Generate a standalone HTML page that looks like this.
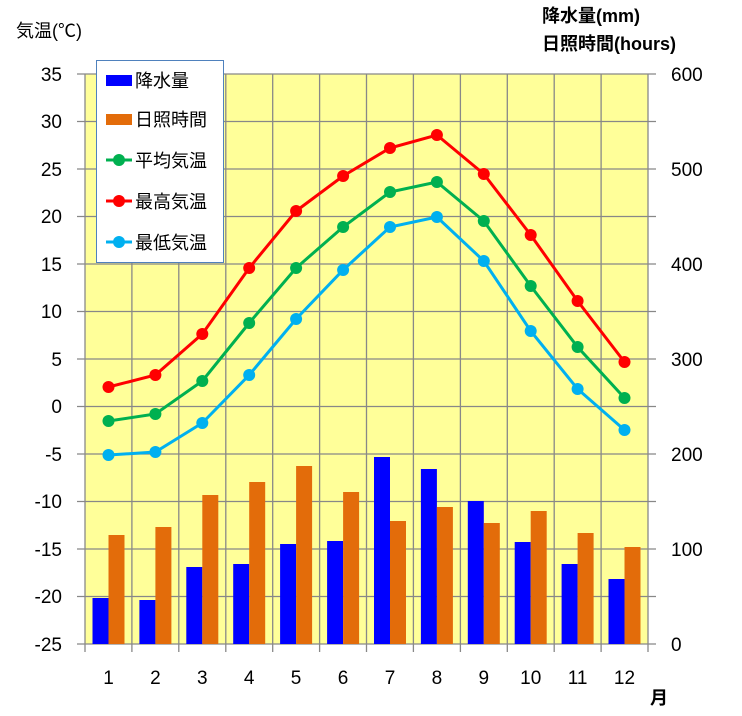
<!DOCTYPE html>
<html><head><meta charset="utf-8"><style>
body{margin:0;background:#fff;}
svg text{font-family:"Liberation Sans","Noto Sans CJK JP",sans-serif;fill:#000;}
</style></head><body>
<svg width="742" height="711" xmlns="http://www.w3.org/2000/svg">
<rect x="85" y="74" width="563" height="570" fill="#ffff99"/>
<g stroke="#888" stroke-width="1.3">
<line x1="131.9" y1="74" x2="131.9" y2="652"/><line x1="178.8" y1="74" x2="178.8" y2="652"/><line x1="225.8" y1="74" x2="225.8" y2="652"/><line x1="272.7" y1="74" x2="272.7" y2="652"/><line x1="319.6" y1="74" x2="319.6" y2="652"/><line x1="366.5" y1="74" x2="366.5" y2="652"/><line x1="413.4" y1="74" x2="413.4" y2="652"/><line x1="460.4" y1="74" x2="460.4" y2="652"/><line x1="507.3" y1="74" x2="507.3" y2="652"/><line x1="554.2" y1="74" x2="554.2" y2="652"/><line x1="601.1" y1="74" x2="601.1" y2="652"/>
<line x1="85" y1="74" x2="85" y2="652"/><line x1="648" y1="74" x2="648" y2="652"/>
<line x1="77" y1="74" x2="656" y2="74"/><line x1="77" y1="121.5" x2="656" y2="121.5"/><line x1="77" y1="169" x2="656" y2="169"/><line x1="77" y1="216.5" x2="656" y2="216.5"/><line x1="77" y1="264" x2="656" y2="264"/><line x1="77" y1="311.5" x2="656" y2="311.5"/><line x1="77" y1="359" x2="656" y2="359"/><line x1="77" y1="406.5" x2="656" y2="406.5"/><line x1="77" y1="454" x2="656" y2="454"/><line x1="77" y1="501.5" x2="656" y2="501.5"/><line x1="77" y1="549" x2="656" y2="549"/><line x1="77" y1="596.5" x2="656" y2="596.5"/><line x1="77" y1="644" x2="656" y2="644"/>
</g>
<g fill="#0000ff">
<rect x="92.5" y="598" width="16" height="46"/><rect x="139.4" y="600" width="16" height="44"/><rect x="186.3" y="567" width="16" height="77"/><rect x="233.2" y="564" width="16" height="80"/><rect x="280.1" y="544" width="16" height="100"/><rect x="327.1" y="541" width="16" height="103"/><rect x="374" y="457" width="16" height="187"/><rect x="420.9" y="469" width="16" height="175"/><rect x="467.8" y="501" width="16" height="143"/><rect x="514.7" y="542" width="16" height="102"/><rect x="561.6" y="564" width="16" height="80"/><rect x="608.5" y="579" width="16" height="65"/>
</g>
<g fill="#e36c0a">
<rect x="108.5" y="535" width="16" height="109"/><rect x="155.4" y="527" width="16" height="117"/><rect x="202.3" y="495" width="16" height="149"/><rect x="249.2" y="482" width="16" height="162"/><rect x="296.1" y="466" width="16" height="178"/><rect x="343.1" y="492" width="16" height="152"/><rect x="390" y="521" width="16" height="123"/><rect x="436.9" y="507" width="16" height="137"/><rect x="483.8" y="523" width="16" height="121"/><rect x="530.7" y="511" width="16" height="133"/><rect x="577.6" y="533" width="16" height="111"/><rect x="624.5" y="547" width="16" height="97"/>
</g>
<g stroke-width="3" fill="none">
<polyline stroke="#ff0000" points="108.5,387 155.4,375 202.3,334 249.2,268 296.1,211 343.1,176 390,148 436.9,135 483.8,174 530.7,235 577.6,301 624.5,362"/>
<polyline stroke="#00b050" points="108.5,421 155.4,414 202.3,381 249.2,323 296.1,268 343.1,227 390,192 436.9,182 483.8,221 530.7,286 577.6,347 624.5,398"/>
<polyline stroke="#00b0f0" points="108.5,455 155.4,452 202.3,423 249.2,375 296.1,319 343.1,270 390,227 436.9,217 483.8,261 530.7,331 577.6,389 624.5,430"/>
</g>
<g fill="#ff0000"><circle cx="108.5" cy="387" r="6"/><circle cx="155.4" cy="375" r="6"/><circle cx="202.3" cy="334" r="6"/><circle cx="249.2" cy="268" r="6"/><circle cx="296.1" cy="211" r="6"/><circle cx="343.1" cy="176" r="6"/><circle cx="390" cy="148" r="6"/><circle cx="436.9" cy="135" r="6"/><circle cx="483.8" cy="174" r="6"/><circle cx="530.7" cy="235" r="6"/><circle cx="577.6" cy="301" r="6"/><circle cx="624.5" cy="362" r="6"/></g>
<g fill="#00b050"><circle cx="108.5" cy="421" r="6"/><circle cx="155.4" cy="414" r="6"/><circle cx="202.3" cy="381" r="6"/><circle cx="249.2" cy="323" r="6"/><circle cx="296.1" cy="268" r="6"/><circle cx="343.1" cy="227" r="6"/><circle cx="390" cy="192" r="6"/><circle cx="436.9" cy="182" r="6"/><circle cx="483.8" cy="221" r="6"/><circle cx="530.7" cy="286" r="6"/><circle cx="577.6" cy="347" r="6"/><circle cx="624.5" cy="398" r="6"/></g>
<g fill="#00b0f0"><circle cx="108.5" cy="455" r="6"/><circle cx="155.4" cy="452" r="6"/><circle cx="202.3" cy="423" r="6"/><circle cx="249.2" cy="375" r="6"/><circle cx="296.1" cy="319" r="6"/><circle cx="343.1" cy="270" r="6"/><circle cx="390" cy="227" r="6"/><circle cx="436.9" cy="217" r="6"/><circle cx="483.8" cy="261" r="6"/><circle cx="530.7" cy="331" r="6"/><circle cx="577.6" cy="389" r="6"/><circle cx="624.5" cy="430" r="6"/></g>
<!-- legend -->
<rect x="96.5" y="60.5" width="127" height="202" fill="#fff" stroke="#4f81bd" stroke-width="1"/>
<rect x="106" y="75" width="26" height="11" fill="#0000ff"/>
<rect x="106" y="114" width="26" height="11" fill="#e36c0a"/>
<line x1="106" y1="160" x2="132" y2="160" stroke="#00b050" stroke-width="3"/><circle cx="119" cy="160" r="6" fill="#00b050"/>
<line x1="106" y1="201" x2="132" y2="201" stroke="#ff0000" stroke-width="3"/><circle cx="119" cy="201" r="6" fill="#ff0000"/>
<line x1="106" y1="242" x2="132" y2="242" stroke="#00b0f0" stroke-width="3"/><circle cx="119" cy="242" r="6" fill="#00b0f0"/>
<g font-size="18"><text x="135" y="87">降水量</text><text x="135" y="126">日照時間</text><text x="135" y="167">平均気温</text><text x="135" y="208">最高気温</text><text x="135" y="249">最低気温</text></g>
<g font-size="19" text-anchor="end"><text x="62" y="81">35</text><text x="62" y="128">30</text><text x="62" y="176">25</text><text x="62" y="223">20</text><text x="62" y="271">15</text><text x="62" y="318">10</text><text x="62" y="366">5</text><text x="62" y="413">0</text><text x="62" y="461">-5</text><text x="62" y="508">-10</text><text x="62" y="556">-15</text><text x="62" y="603">-20</text><text x="62" y="651">-25</text></g>
<g font-size="19"><text x="671" y="81">600</text><text x="671" y="176">500</text><text x="671" y="271">400</text><text x="671" y="366">300</text><text x="671" y="461">200</text><text x="671" y="556">100</text><text x="671" y="651">0</text></g>
<g font-size="19" text-anchor="middle"><text x="108.5" y="684">1</text><text x="155.4" y="684">2</text><text x="202.3" y="684">3</text><text x="249.2" y="684">4</text><text x="296.1" y="684">5</text><text x="343.1" y="684">6</text><text x="390" y="684">7</text><text x="436.9" y="684">8</text><text x="483.8" y="684">9</text><text x="530.7" y="684">10</text><text x="577.6" y="684">11</text><text x="624.5" y="684">12</text></g>
<text x="650" y="704" font-size="18" font-weight="bold">月</text>
<text x="16" y="37" font-size="18">気温(℃)</text>
<g font-size="18" font-weight="bold"><text x="542" y="22">降水量(mm)</text><text x="542" y="50">日照時間(hours)</text></g>
</svg>
</body></html>
